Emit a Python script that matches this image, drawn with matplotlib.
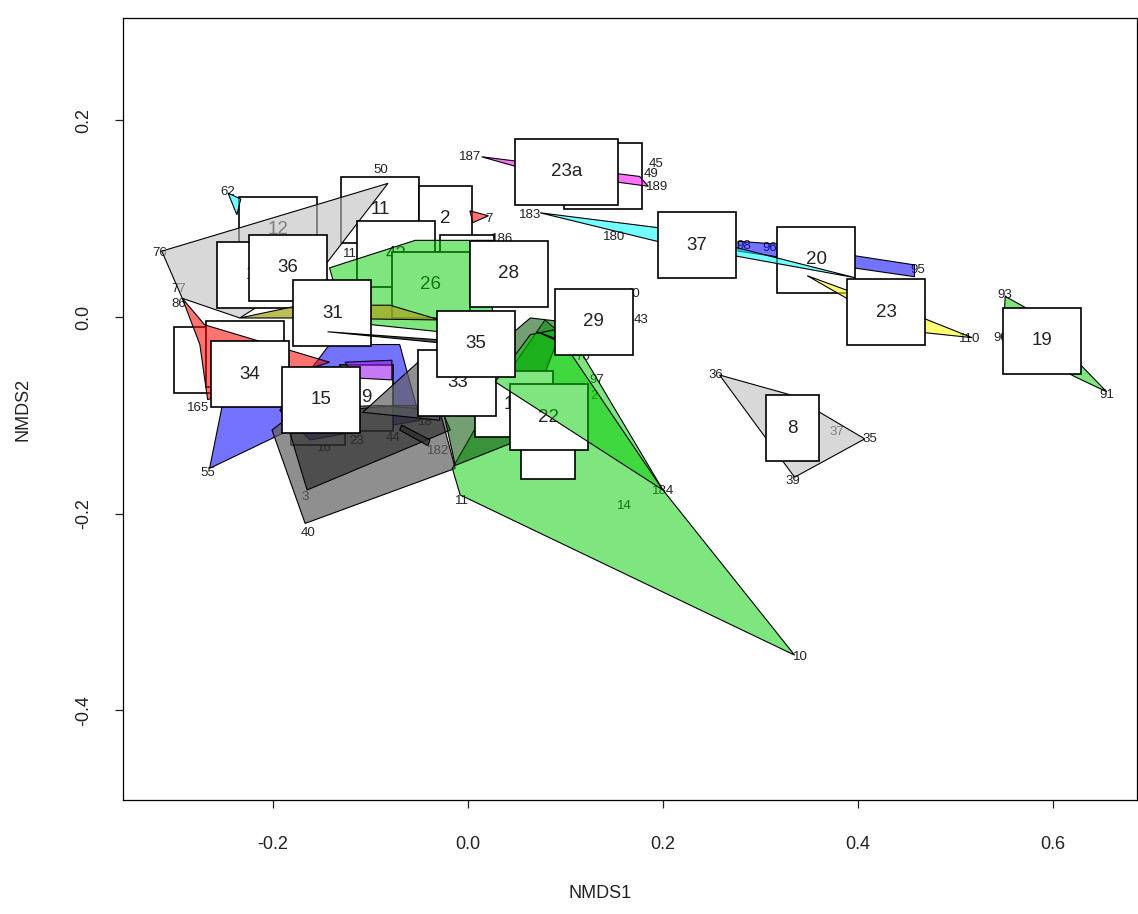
import matplotlib
matplotlib.use("Agg")
import matplotlib.pyplot as plt
from matplotlib.patches import Polygon, Rectangle

plt.rcParams['font.family'] = ['Liberation Sans', 'DejaVu Sans']

# site scores that carry a text label (NMDS1, NMDS2)
pt_labels = ["62", "76", "77", "86", "50", "11", "187", "45", "49", "189", "183", "186",
             "7", "180", "98", "96", "95", "93", "90", "110", "91", "36", "37", "35",
             "39", "10", "184", "14", "11", "40", "3", "55", "165", "16", "23", "44",
             "182", "18", "43", "40", "70", "97", "2"]
pt_x = [-0.246, -0.316, -0.297, -0.297, -0.089, -0.121, 0.002, 0.193, 0.188, 0.194, 0.064, 0.035,
        0.022, 0.150, 0.283, 0.310, 0.461, 0.551, 0.546, 0.515, 0.655, 0.254, 0.378, 0.412,
        0.333, 0.341, 0.200, 0.160, -0.006, -0.164, -0.167, -0.267, -0.277, -0.147, -0.114, -0.077,
        -0.031, -0.044, 0.178, 0.169, 0.118, 0.132, 0.129]
pt_y = [0.127, 0.065, 0.028, 0.013, 0.150, 0.064, 0.163, 0.156, 0.145, 0.132, 0.104, 0.079,
        0.100, 0.081, 0.072, 0.070, 0.048, 0.022, -0.021, -0.022, -0.079, -0.059, -0.117, -0.124,
        -0.167, -0.346, -0.177, -0.192, -0.187, -0.220, -0.183, -0.159, -0.093, -0.133, -0.126, -0.123,
        -0.136, -0.107, -0.003, 0.023, -0.041, -0.064, -0.080]

# group centroids (label boxes)
grp_labels = ["12", "11", "2", "42", "10", "36", "31", "28", "26", "23a", "27", "37", "20", "23",
              "19", "8", "29", "35", "33", "22", "3", "17", "9", "34", "15", "24", "25", "6", "5"]
grp_x = [-0.195, -0.090, -0.023, -0.074, -0.217, -0.185, -0.139, 0.042, -0.038, 0.101, 0.139, 0.235,
         0.357, 0.429, 0.589, 0.333, 0.129, 0.008, -0.011, 0.083, 0.082, 0.047, -0.104, -0.224,
         -0.151, -0.261, -0.229, -0.154, -0.001]
grp_y = [0.089, 0.109, 0.100, 0.064, 0.043, 0.050, 0.004, 0.044, 0.033, 0.148, 0.143, 0.073,
         0.058, 0.005, -0.024, -0.113, -0.005, -0.027, -0.067, -0.102, -0.131, -0.089, -0.082, -0.058,
         -0.084, -0.044, -0.038, -0.097, 0.050]
# boxes whose name is fully covered by later boxes in the original
grp_covered = ["27", "24", "25", "6", "5"]

# convex hull vertices of the groups
hull_12 = [(-0.314, 0.067), (-0.082, 0.136), (-0.144, 0.056), (-0.234, -0.001), (-0.293, 0.019)]
hull_62 = [(-0.246, 0.126), (-0.233, 0.120), (-0.237, 0.104)]
hull_23a = [(0.014, 0.163), (0.176, 0.143), (0.185, 0.133), (0.064, 0.149)]
hull_7 = [(0.002, 0.108), (0.021, 0.103), (0.005, 0.096)]
hull_37 = [(0.074, 0.106), (0.194, 0.091), (0.397, 0.040), (0.275, 0.062), (0.194, 0.077)]
hull_20 = [(0.277, 0.077), (0.320, 0.074), (0.458, 0.053), (0.458, 0.041), (0.277, 0.067)]
hull_23 = [(0.348, 0.042), (0.469, -0.002), (0.517, -0.021), (0.469, -0.016), (0.392, 0.017)]
hull_19 = [(0.551, 0.021), (0.571, 0.010), (0.655, -0.076), (0.623, -0.061), (0.549, -0.021)]
hull_8 = [(0.258, -0.059), (0.330, -0.079), (0.407, -0.124), (0.335, -0.163)]
hull_14 = [(-0.016, -0.154), (-0.008, -0.181), (0.335, -0.344), (0.200, -0.176), (0.115, -0.034),
           (0.079, -0.003), (0.033, -0.069)]
hull_22 = [(-0.029, -0.079), (0.064, -0.001), (0.099, -0.005), (0.053, -0.125), (-0.013, -0.151)]
hull_2 = [(0.028, -0.066), (0.200, -0.176), (0.089, -0.013), (0.064, -0.018)]
hull_26 = [(-0.142, 0.050), (-0.054, 0.078), (0.025, 0.078), (0.025, -0.013), (-0.029, -0.015),
           (-0.126, -0.005)]
hull_40 = [(-0.201, -0.115), (-0.167, -0.210), (-0.013, -0.154), (-0.029, -0.095), (-0.090, -0.090),
           (-0.172, -0.093)]
hull_3 = [(-0.188, -0.100), (-0.165, -0.176), (-0.018, -0.115), (-0.029, -0.090), (-0.075, -0.090)]
hull_55 = [(-0.265, -0.154), (-0.252, -0.090), (-0.172, -0.082), (-0.183, -0.115)]
hull_15 = [(-0.193, -0.095), (-0.142, -0.028), (-0.070, -0.028), (-0.049, -0.105), (-0.162, -0.125)]
hull_34 = [(-0.293, 0.019), (-0.270, -0.008), (-0.142, -0.046), (-0.183, -0.059), (-0.267, -0.084),
           (-0.275, -0.028)]
hull_31 = [(-0.234, -0.001), (-0.172, 0.012), (-0.080, 0.012), (-0.029, -0.003), (-0.172, -0.001)]
hull_9 = [(-0.126, -0.046), (-0.078, -0.044), (-0.078, -0.064), (-0.116, -0.062)]
hull_33 = [(-0.108, -0.097), (-0.049, -0.044), (-0.029, -0.044), (-0.029, -0.105)]
hull_31b = [(-0.144, -0.015), (-0.032, -0.026), (-0.032, -0.023)]
hull_29 = [(0.071, -0.015), (0.117, -0.036), (0.117, -0.032)]
hull_44 = [(-0.068, -0.110), (-0.039, -0.125), (-0.041, -0.131), (-0.070, -0.115)]

hulls = {"12": hull_12, "62": hull_62, "23a": hull_23a, "7": hull_7, "37": hull_37,
         "20": hull_20, "23": hull_23, "19": hull_19, "8": hull_8, "14": hull_14,
         "22": hull_22, "2": hull_2, "26": hull_26, "40": hull_40, "3": hull_3,
         "55": hull_55, "15": hull_15, "34": hull_34, "31": hull_31, "9": hull_9,
         "33": hull_33, "31b": hull_31b, "29": hull_29, "44": hull_44}

fills = {"12": ("#bebebe", 0.6), "62": ("cyan", 0.55), "23a": ("magenta", 0.55),
         "7": ("red", 0.55), "37": ("cyan", 0.55), "20": ("blue", 0.55),
         "23": ("yellow", 0.55), "19": ("#00cd00", 0.5), "8": ("#bebebe", 0.6),
         "14": ("#00cd00", 0.5), "22": ("#005000", 0.55), "2": ("#00cd00", 0.5),
         "26": ("#00cd00", 0.5), "40": ("#606060", 0.7), "3": ("black", 0.45),
         "55": ("blue", 0.55), "15": ("blue", 0.55), "34": ("red", 0.55),
         "31": ("#a8a820", 0.75), "9": ("#a020f0", 0.6), "33": ("#606060", 0.7),
         "31b": ("black", 0.7), "29": ("black", 0.7), "44": ("#303030", 0.8)}

# back to front
draw_order = [("b", "12"), ("b", "11"), ("h", "12"), ("h", "62"), ("b", "10"), ("b", "36"),
              ("b", "2"), ("h", "7"),
              ("b", "27"), ("h", "23a"), ("b", "23a"),
              ("h", "20"), ("b", "20"), ("h", "37"), ("h", "23"), ("b", "37"), ("b", "23"),
              ("h", "19"), ("b", "19"), ("h", "8"), ("b", "8"),
              ("b", "6"), ("b", "24"), ("b", "25"), ("h", "55"), ("h", "15"), ("h", "34"),
              ("b", "34"), ("b", "9"), ("h", "9"), ("h", "40"), ("h", "3"), ("h", "33"),
              ("h", "44"), ("b", "15"),
              ("b", "42"), ("b", "5"), ("b", "26"), ("h", "26"), ("h", "31"), ("b", "31"), ("h", "31b"),
              ("h", "14"), ("h", "22"), ("b", "17"), ("b", "3"), ("b", "33"), ("b", "22"),
              ("h", "2"), ("b", "35"), ("b", "28"), ("h", "29"), ("b", "29")]

fig = plt.figure(figsize=(11.38, 9.14), dpi=100)
ax = fig.add_axes([123 / 1138, 114 / 914, 1014 / 1138, 782 / 914])
xmin, xmax = -0.3538, 0.6862
ymin, ymax = -0.4914, 0.3042
ax.set_xlim(xmin, xmax)
ax.set_ylim(ymin, ymax)

# data units per pixel, for the fixed-size label boxes
sx = (xmax - xmin) / 1014
sy = (ymax - ymin) / 782

for lab, x, y in zip(pt_labels, pt_x, pt_y):
    ax.text(x, y, lab, fontsize=9.5, color="#222222", ha="center", va="center", zorder=1)

z = 2
for kind, name in draw_order:
    if kind == "h":
        col, a = fills[name]
        ax.add_patch(Polygon(hulls[name], closed=True, facecolor=col, alpha=a,
                             edgecolor="none", zorder=z))
        ax.add_patch(Polygon(hulls[name], closed=True, facecolor="none",
                             edgecolor="black", lw=0.8, zorder=z + 0.1))
    else:
        i = grp_labels.index(name)
        w = (29 + 24.5 * len(name)) * sx
        h = 66 * sy
        ax.add_patch(Rectangle((grp_x[i] - w / 2, grp_y[i] - h / 2), w, h,
                               facecolor="white", edgecolor="black", lw=1.2, zorder=z))
        if name not in grp_covered:
            ax.text(grp_x[i], grp_y[i], name, fontsize=13.5, color="#222222",
                    ha="center", va="center", zorder=z + 0.1)
    z += 1

ax.set_xticks([-0.2, 0.0, 0.2, 0.4, 0.6])
ax.set_xticklabels(["-0.2", "0.0", "0.2", "0.4", "0.6"])
ax.set_yticks([-0.4, -0.2, 0.0, 0.2])
ax.set_yticklabels(["-0.4", "-0.2", "0.0", "0.2"], rotation=90, va="center")
ax.tick_params(axis="both", direction="out", length=6, width=0.9, labelsize=13, colors="#222222")
ax.tick_params(axis="x", pad=20)
ax.tick_params(axis="y", pad=16)
for s in ax.spines.values():
    s.set_linewidth(0.9)
ax.set_xlabel("NMDS1", fontsize=13, color="#222222")
ax.set_ylabel("NMDS2", fontsize=13, color="#222222")
ax.xaxis.set_label_coords(477 / 1014, -85 / 782)
ax.yaxis.set_label_coords(-91 / 1014, 0.5)

fig.savefig("out.png", dpi=100)
